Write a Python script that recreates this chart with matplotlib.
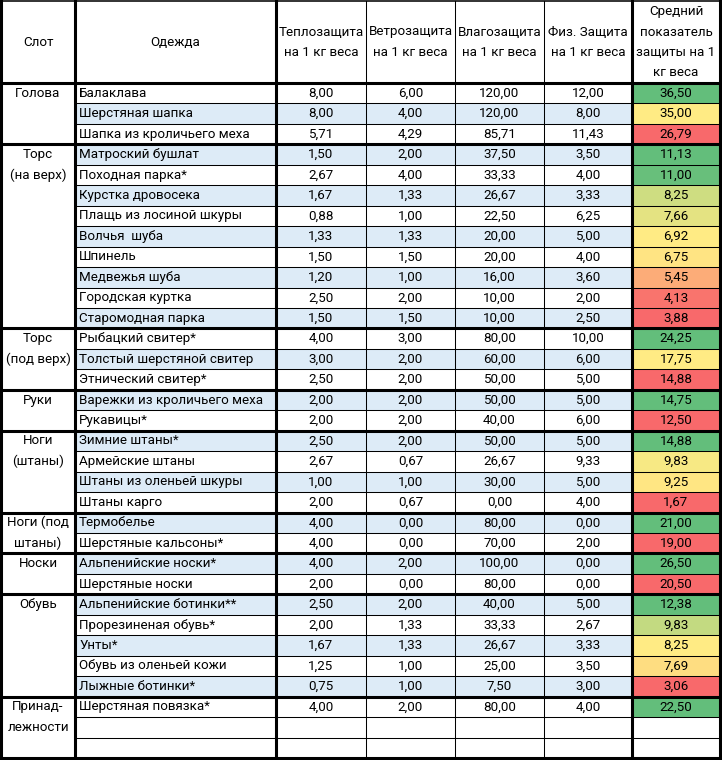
import numpy as np
import matplotlib
matplotlib.use("Agg")
import matplotlib.pyplot as plt
from matplotlib.patches import Rectangle

# ---------------- data ----------------
headers = ["Слот", "Одежда", "Теплозащита\nна 1 кг веса", "Ветрозащита\nна 1 кг веса",
           "Влагозащита\nна 1 кг веса", "Физ. Защита\nна 1 кг веса",
           "Средний\nпоказатель\nзащиты на 1\nкг веса"]

slots = ["Голова", "Торс\n(на верх)", "Торс\n(под верх)", "Руки", "Ноги\n(штаны)",
         "Ноги (под\nштаны)", "Носки", "Обувь", "Принад-\nлежности"]
slot_sizes = [3, 9, 3, 2, 4, 2, 2, 5, 3]

items = ["Балаклава", "Шерстяная шапка", "Шапка из кроличьего меха",
         "Матроский бушлат", "Походная парка*", "Курстка дровосека", "Плащь из лосиной шкуры",
         "Волчья  шуба", "Шпинель", "Медвежья шуба", "Городская куртка", "Старомодная парка",
         "Рыбацкий свитер*", "Толстый шерстяной свитер", "Этнический свитер*",
         "Варежки из кроличьего меха", "Рукавицы*",
         "Зимние штаны*", "Армейские штаны", "Штаны из оленьей шкуры", "Штаны карго",
         "Термобелье", "Шерстяные кальсоны*",
         "Альпенийские носки*", "Шерстяные носки",
         "Альпенийские ботинки**", "Прорезиненая обувь*", "Унты*", "Обувь из оленьей кожи",
         "Лыжные ботинки*",
         "Шерстяная повязка*"]

heat = [8.00, 8.00, 5.71, 1.50, 2.67, 1.67, 0.88, 1.33, 1.50, 1.20, 2.50, 1.50,
        4.00, 3.00, 2.50, 2.00, 2.00, 2.50, 2.67, 1.00, 2.00, 4.00, 4.00,
        4.00, 2.00, 2.50, 2.00, 1.67, 1.25, 0.75, 4.00]
wind = [6.00, 4.00, 4.29, 2.00, 4.00, 1.33, 1.00, 1.33, 1.50, 1.00, 2.00, 1.50,
        3.00, 2.00, 2.00, 2.00, 2.00, 2.00, 0.67, 1.00, 0.67, 0.00, 0.00,
        2.00, 0.00, 2.00, 1.33, 1.33, 1.00, 1.00, 2.00]
water = [120.00, 120.00, 85.71, 37.50, 33.33, 26.67, 22.50, 20.00, 20.00, 16.00, 10.00, 10.00,
         80.00, 60.00, 50.00, 50.00, 40.00, 50.00, 26.67, 30.00, 0.00, 80.00, 70.00,
         100.00, 80.00, 40.00, 33.33, 26.67, 25.00, 7.50, 80.00]
phys = [12.00, 8.00, 11.43, 3.50, 4.00, 3.33, 6.25, 5.00, 4.00, 3.60, 2.00, 2.50,
        10.00, 6.00, 5.00, 5.00, 6.00, 5.00, 9.33, 5.00, 4.00, 0.00, 2.00,
        0.00, 0.00, 5.00, 2.67, 3.33, 3.50, 3.00, 4.00]
avg = [36.50, 35.00, 26.79, 11.13, 11.00, 8.25, 7.66, 6.92, 6.75, 5.45, 4.13, 3.88,
       24.25, 17.75, 14.88, 14.75, 12.50, 14.88, 9.83, 9.25, 1.67, 21.00, 19.00,
       26.50, 20.50, 12.38, 9.83, 8.25, 7.69, 3.06, 22.50]

# ---------------- layout / style ----------------
W, H = 722, 760
col_edges = [1, 75, 276, 366, 455, 544, 632, 720]
header_top, header_bot, table_bot = 1, 83, 758
n_rows = sum(slot_sizes)
row_h = (table_bot - header_bot) / n_rows

RED = np.array([0xF8, 0x69, 0x6B]) / 255
YEL = np.array([0xFF, 0xEB, 0x84]) / 255
GRN = np.array([0x63, 0xBE, 0x7B]) / 255
BLUE = "#DDEBF7"
FONT = "Roboto"
FS = 9.6
thin = 0.75
thick = 2.2

fig = plt.figure(figsize=(W / 100, H / 100), dpi=100)
ax = fig.add_axes([0, 0, 1, 1])
ax.set_xlim(0, W)
ax.set_ylim(H, 0)
ax.axis("off")


def row_top(i):
    return header_bot + i * row_h


def scale_colors(vals):
    vals = np.asarray(vals, float)
    if len(vals) == 1:
        return [GRN]
    lo, hi = vals.min(), vals.max()
    mid = np.percentile(vals, 50)
    out = []
    for v in vals:
        if v >= mid:
            t = 0 if hi == mid else (v - mid) / (hi - mid)
            out.append(YEL + (GRN - YEL) * t)
        else:
            t = 0 if mid == lo else (v - lo) / (mid - lo)
            out.append(RED + (YEL - RED) * t)
    return out


# colours for last column, per group
avg_colors = []
start = 0
for s in slot_sizes:
    grp = avg[start:start + s]
    if grp:
        avg_colors += scale_colors(grp)
    start += s

# row fills
for i in range(n_rows):
    y0 = row_top(i)
    if i < len(items) and i % 2 == 1:
        ax.add_patch(Rectangle((col_edges[1], y0), col_edges[6] - col_edges[1], row_h,
                               facecolor=BLUE, edgecolor="none", zorder=0))
    if i < len(avg):
        ax.add_patch(Rectangle((col_edges[6], y0), col_edges[7] - col_edges[6], row_h,
                               facecolor=avg_colors[i], edgecolor="none", zorder=0))

# header text
hc = (header_top + header_bot) / 2
for j, h in enumerate(headers):
    cx = (col_edges[j] + col_edges[j + 1]) / 2
    lines = h.split("\n")
    n = len(lines)
    for k, ln in enumerate(lines):
        y = hc + (k - (n - 1) / 2) * 20
        ax.text(cx, y, ln, ha="center", va="center", fontsize=FS, family=FONT)

# body text
cols_vals = [heat, wind, water, phys, avg]
for i in range(len(items)):
    yc = row_top(i) + row_h / 2
    ax.text(col_edges[1] + 4, yc, items[i], ha="left", va="center", fontsize=FS, family=FONT)
    for j, vals in enumerate(cols_vals):
        cx = (col_edges[j + 2] + col_edges[j + 3]) / 2
        ax.text(cx, yc, f"{vals[i]:.2f}".replace(".", ","), ha="center", va="center",
                fontsize=FS, family=FONT)

# slot labels
start = 0
slot_cx = (col_edges[0] + col_edges[1]) / 2
for name, s in zip(slots, slot_sizes):
    for k, ln in enumerate(name.split("\n")):
        ax.text(slot_cx, row_top(start + k) + row_h / 2, ln, ha="center", va="center",
                fontsize=FS, family=FONT)
    start += s

# grid lines: thin horizontal within groups
group_bounds = np.cumsum([0] + slot_sizes)
for i in range(1, n_rows):
    y = row_top(i)
    if i in group_bounds:
        ax.plot([col_edges[0], col_edges[7]], [y, y], color="black", lw=thick,
                solid_capstyle="projecting", zorder=3)
    else:
        ax.plot([col_edges[1], col_edges[7]], [y, y], color="black", lw=thin, zorder=2)

# header bottom, top, bottom borders
ax.plot([col_edges[0], col_edges[7]], [header_bot, header_bot], color="black", lw=thick,
        solid_capstyle="projecting", zorder=3)
ax.plot([col_edges[0], col_edges[7]], [header_top, header_top], color="black", lw=thin * 1.5,
        zorder=3)
ax.plot([col_edges[0], col_edges[7]], [table_bot, table_bot], color="black", lw=thick,
        solid_capstyle="projecting", zorder=3)

# vertical lines
thick_cols = {0, 1, 2, 6, 7}
for j, x in enumerate(col_edges):
    ax.plot([x, x], [header_top, table_bot], color="black",
            lw=thick if j in thick_cols else thin, solid_capstyle="projecting", zorder=3)

fig.savefig("out.png", dpi=100, facecolor="white")
